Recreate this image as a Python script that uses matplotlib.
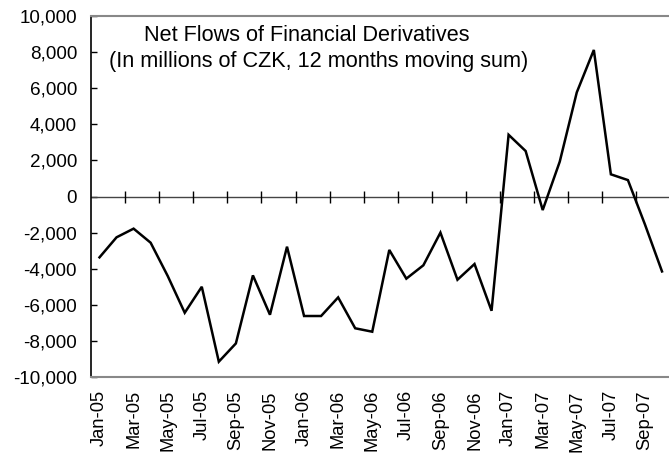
import matplotlib
matplotlib.use("Agg")
import matplotlib.pyplot as plt
import numpy as np

plt.rcParams['font.family'] = ['Liberation Sans', 'DejaVu Sans']

# monthly categories, Jan-05 .. Oct-07 (last one falls past the right edge)
months = ['Jan-05', 'Feb-05', 'Mar-05', 'Apr-05', 'May-05', 'Jun-05', 'Jul-05', 'Aug-05',
          'Sep-05', 'Oct-05', 'Nov-05', 'Dec-05', 'Jan-06', 'Feb-06', 'Mar-06', 'Apr-06',
          'May-06', 'Jun-06', 'Jul-06', 'Aug-06', 'Sep-06', 'Oct-06', 'Nov-06', 'Dec-06',
          'Jan-07', 'Feb-07', 'Mar-07', 'Apr-07', 'May-07', 'Jun-07', 'Jul-07', 'Aug-07',
          'Sep-07', 'Oct-07']
net_flows = [-3370, -2260, -1780, -2560, -4400, -6440, -5000, -9150,
             -8140, -4370, -6550, -2780, -6620, -6620, -5590, -7300,
             -7490, -2960, -4550, -3810, -2000, -4610, -3740, -6330,
             3420, 2520, -750, 1930, 5770, 8120, 1230, 910,
             -1550, -4150]
y_ticks = [-10000, -8000, -6000, -4000, -2000, 0, 2000, 4000, 6000, 8000, 10000]

fig = plt.figure(figsize=(6.69, 4.55), dpi=100)
ax = fig.add_axes([0.136, 0.1714, 0.864, 0.7934])

x = np.arange(len(months))
ax.plot(x, net_flows, color='black', lw=1.8, solid_joinstyle='miter', zorder=3)

# zero line with category-boundary ticks
ax.axhline(0, color='#444444', lw=1.0, zorder=2)
bounds = np.arange(1.5, len(months), 2)
ax.plot(bounds, np.zeros(len(bounds)), ls='none', marker='|', ms=8, mew=1.0,
        color='black', zorder=2)

ax.set_xlim(-0.5, 33.41)
ax.set_ylim(-10000, 10000)
ax.set_yticks(y_ticks)
ax.set_yticklabels([f'{v:,}' for v in y_ticks])
ax.set_xticks(x[::2])
ax.set_xticklabels(months[::2], rotation=90)
ax.tick_params(axis='x', length=0, pad=9.5, labelsize=13.2)
ax.tick_params(axis='y', direction='in', length=4, width=1, pad=10, labelsize=13.6)

ax.spines['right'].set_visible(False)
ax.spines['left'].set_color('black')
ax.spines['left'].set_linewidth(1.2)
for s in ('top', 'bottom'):
    ax.spines[s].set_color('#888888')
    ax.spines[s].set_linewidth(1.5)

ax.text(0.373, 0.947, 'Net Flows of Financial Derivatives',
        transform=ax.transAxes, ha='center', va='center', fontsize=15.6)
ax.text(0.394, 0.873, '(In millions of CZK, 12 months moving sum)',
        transform=ax.transAxes, ha='center', va='center', fontsize=15.6)

fig.savefig('out.png', dpi=100)
